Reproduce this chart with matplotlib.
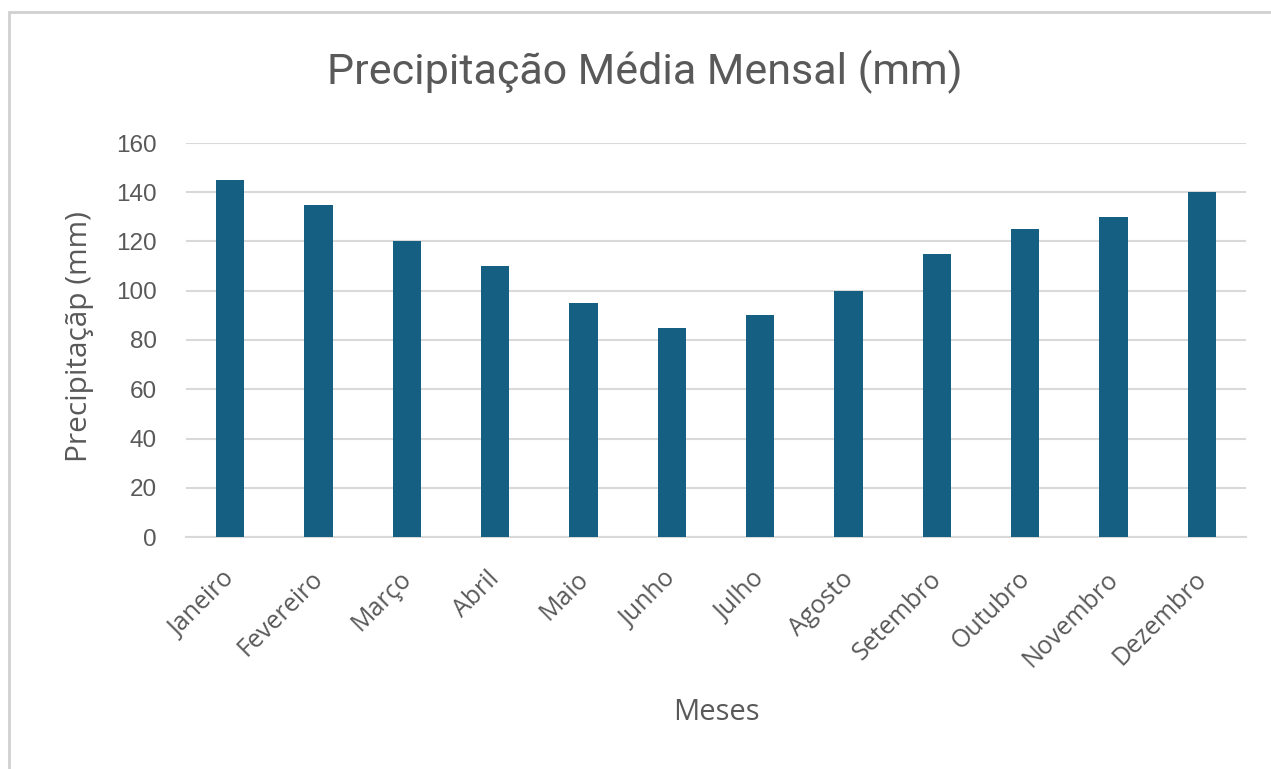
import matplotlib.pyplot as plt
from matplotlib.patches import Rectangle
from matplotlib.transforms import ScaledTranslation

meses = ["Janeiro", "Fevereiro", "Março", "Abril", "Maio", "Junho",
         "Julho", "Agosto", "Setembro", "Outubro", "Novembro", "Dezembro"]
precipitacao = [145, 135, 120, 110, 95, 85, 90, 100, 115, 125, 130, 140]
yticks = [0, 20, 40, 60, 80, 100, 120, 140, 160]

BAR = "#156082"
TEXT = "#595959"
GRID = "#D9D9D9"

fig = plt.figure(figsize=(12.71, 7.69), dpi=100)
W, H = 1271, 769

# chart frame (open at right and bottom)
fig.add_artist(Rectangle((9 / W, -0.01), 1.0, 1 - 12 / H + 0.01,
                         transform=fig.transFigure, fill=False,
                         edgecolor="#D0D0D0", linewidth=2))

ax = fig.add_axes([186 / W, 1 - 537 / H, (1246 - 186) / W, (537 - 143) / H])
x = range(len(meses))
ax.bar(x, precipitacao, width=0.32, color=BAR, zorder=3)

ax.set_xlim(-0.5, len(meses) - 0.5)
ax.set_ylim(0, 160)
ax.set_yticks(yticks)
ax.set_yticklabels([str(v) for v in yticks], fontsize=17.5, color=TEXT,
                   family="Liberation Sans")
ax.set_xticks(list(x))
ax.set_xticklabels(meses, rotation=45, ha="right", rotation_mode="anchor",
                   fontsize=18, color=TEXT, family="Open Sans")
ax.tick_params(axis="both", length=0)
ax.tick_params(axis="y", pad=21)
ax.tick_params(axis="x", pad=14)

# nudge month labels down-left
shift = ScaledTranslation(-8 / 100, -10 / 100, fig.dpi_scale_trans)
for lbl in ax.get_xticklabels():
    lbl.set_transform(lbl.get_transform() + shift)

ax.grid(axis="y", color=GRID, linewidth=1.5, zorder=0)
for s in ["top", "right", "left"]:
    ax.spines[s].set_visible(False)
ax.spines["bottom"].set_color(GRID)
ax.spines["bottom"].set_linewidth(1.5)

fig.text(645 / W, 1 - 72 / H, "Precipitação Média Mensal (mm)",
         ha="center", va="center", fontsize=31, color=TEXT, family="Roboto")
fig.text(716 / W, 1 - 712 / H, "Meses", ha="center", va="center",
         fontsize=21, color=TEXT, family="Open Sans")
fig.text(80 / W, 1 - 337 / H, "Precipitaçãp (mm)", ha="center", va="center",
         rotation=90, fontsize=21.5, color=TEXT, family="Open Sans")

fig.savefig("out.png", dpi=100, facecolor="white")
